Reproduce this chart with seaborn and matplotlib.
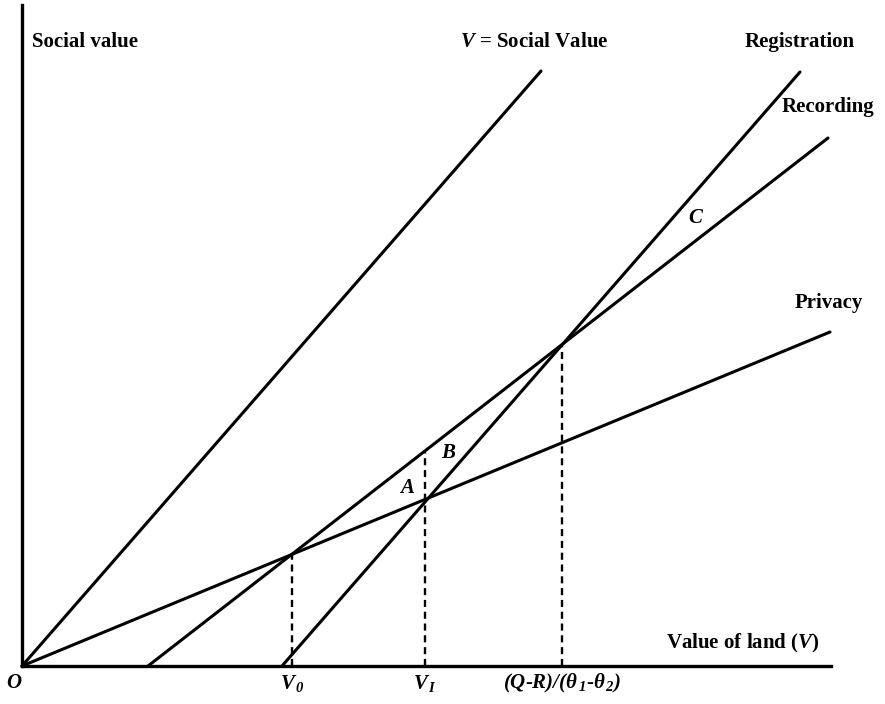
import pandas as pd
import seaborn as sns
import matplotlib.pyplot as plt

# end points of each straight line (value of land, social value), in axis units
lines = ['Social', 'Privacy', 'Recording', 'Registration']
x_start = [0.0, 0.0, 1.26, 2.60]
y_start = [0.0, 0.0, 0.0, 0.0]
x_end = [5.19, 8.08, 8.06, 7.78]
y_end = [5.95, 3.34, 5.28, 5.94]

# dashed drop lines at V0, V1 and (Q-R)/(theta1-theta2)
drop_x = [2.70, 4.03, 5.40]
drop_top = [1.115, 2.15, 3.21]
drop_labels = [r'$V_{\,0}$', r'$V_{\,I}$', r'$(Q$-$R)/(\theta_{\,1}$-$\theta_{\,2})$']

x_max = 8.09
y_max = 6.61

sns.set_theme(style='white')
plt.rcParams['font.family'] = ['Liberation Serif', 'DejaVu Serif']
plt.rcParams['text.color'] = 'black'
plt.rcParams['font.weight'] = 'bold'
plt.rcParams['mathtext.fontset'] = 'custom'
plt.rcParams['mathtext.rm'] = 'Liberation Serif:italic:bold'
plt.rcParams['mathtext.it'] = 'Liberation Serif:italic:bold'

df = pd.DataFrame({
    'line': lines * 2,
    'x': x_start + x_end,
    'y': y_start + y_end,
})

fig = plt.figure(figsize=(8.85, 7.04), dpi=100)
ax = fig.add_axes([0, 0, 1, 1])

sns.lineplot(data=df, x='x', y='y', units='line', estimator=None,
             color='black', lw=2.2, ax=ax, sort=False)

ax.vlines(drop_x, 0, drop_top, colors='black', linestyles=(0, (3, 2)), lw=1.7)

ax.set_xlim(-0.22, 8.63)
ax.set_ylim(-0.38, 6.66)
for s in ['top', 'right']:
    ax.spines[s].set_visible(False)
ax.spines['left'].set_position(('data', 0))
ax.spines['bottom'].set_position(('data', 0))
ax.spines['left'].set_bounds(0, y_max)
ax.spines['bottom'].set_bounds(0, x_max)
for s in ['left', 'bottom']:
    ax.spines[s].set_color('black')
    ax.spines[s].set_linewidth(2.4)
ax.set_xticks([])
ax.set_yticks([])
ax.set_xlabel('')
ax.set_ylabel('')
ax.patch.set_visible(False)

fs = 15
ax.text(0.10, 6.24, 'Social value', fontsize=fs, ha='left', va='center')
ax.text(4.38, 6.24, r'$V$ = Social Value', fontsize=fs, ha='left', va='center')
ax.text(7.78, 6.24, 'Registration', fontsize=fs, ha='center', va='center')
ax.text(7.60, 5.59, 'Recording', fontsize=fs, ha='left', va='center')
ax.text(7.73, 3.63, 'Privacy', fontsize=fs, ha='left', va='center')
ax.text(6.73, 4.48, 'C', fontsize=fs, style='italic', ha='center', va='center')
ax.text(3.85, 1.78, 'A', fontsize=fs, style='italic', ha='center', va='center')
ax.text(4.26, 2.13, 'B', fontsize=fs, style='italic', ha='center', va='center')
ax.text(7.98, 0.23, r'Value of land ($V$)', fontsize=fs, ha='right', va='center')
ax.text(-0.08, -0.17, 'O', fontsize=fs, style='italic', ha='center', va='center')
for xv, lab in zip(drop_x, drop_labels):
    ax.text(xv, -0.17, lab, fontsize=fs, ha='center', va='center')

plt.savefig('out.png', dpi=100)
